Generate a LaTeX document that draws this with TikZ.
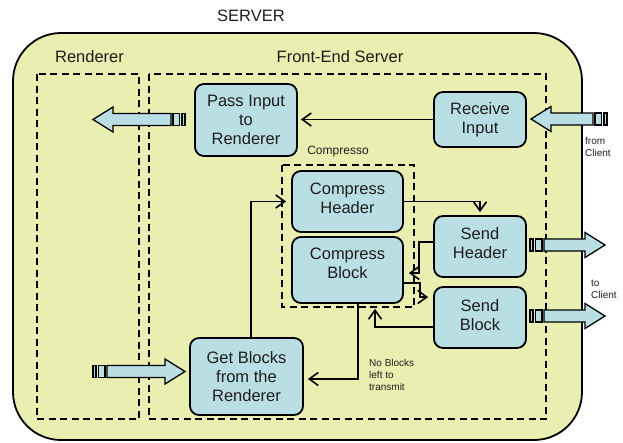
\documentclass[tikz,border=0pt]{standalone}
\usepackage{fontspec}
\setmainfont{Liberation Sans}
\usetikzlibrary{arrows.meta,calc}
\definecolor{serverfill}{RGB}{233,239,176}
\definecolor{boxfill}{RGB}{185,222,227}
\definecolor{ink}{RGB}{30,30,30}

\tikzset{
  stage/.style={draw=black, line width=1.8pt, fill=boxfill, rounded corners=9pt,
    align=center, font=\fontsize{16.5}{19}\selectfont, text=ink, inner sep=2pt},
  zone/.style={draw=black, line width=1.6pt, dash pattern=on 7pt off 4.5pt},
  conn/.style={draw=black, line width=1.6pt, -{Straight Barb[length=9pt,width=13pt]}},
  fatbody/.style={draw=black, line width=1.3pt, fill=boxfill, line join=miter},
  zonelabel/.style={font=\fontsize{16.5}{19}\selectfont, text=ink, inner sep=0pt},
  note/.style={font=\fontsize{10}{12}\selectfont, text=ink, align=left, inner sep=0pt},
}

% block arrow with a striped tail: tail x, axis y, length, direction (+1 right, -1 left)
\newcommand\fatarrow[4]{%
  \begin{scope}[shift={(#1,#2)}, xscale=#4]
    \draw[fatbody] (0,-6) rectangle (3,6);
    \draw[fatbody] (5.5,-6) rectangle (12,6);
    \draw[fatbody] (14,-6) -- ({#3-20},-6) -- ({#3-20},-12.5) -- (#3,0)
      -- ({#3-20},12.5) -- ({#3-20},6) -- (14,6) -- cycle;
  \end{scope}}

\begin{document}
\begin{tikzpicture}[x=1pt,y=-1pt]
\useasboundingbox (0,0) rectangle (623,442);

% server enclosure
\draw[line width=1.8pt, fill=serverfill, rounded corners=48pt] (13,33) rectangle (582,440);

\node[zonelabel] (server) at (251,15.5) {SERVER};
\node[zonelabel] (rlabel) at (89.5,57) {Renderer};
\node[zonelabel] (flabel) at (340,57) {Front-End Server};
\node[inner sep=0pt, text=ink, font=\fontsize{12}{14}\selectfont] (clabel) at (338,152) {Compresso};

% dashed regions
\draw[zone] (37,74) rectangle (139,419);
\draw[zone] (149,74) rectangle (546,419);
\draw[zone] (282,165) rectangle (414,307);

% block arrows in and out
\fatarrow{185}{119.5}{92}{-1}
\fatarrow{607}{119}{76}{-1}
\fatarrow{93}{371.5}{92}{1}
\fatarrow{530}{245}{75}{1}
\fatarrow{530}{316}{75}{1}

% processing stages
\node[stage, minimum width=102pt, minimum height=72pt] (pass) at (246,120) {Pass Input\\to\\Renderer};
\node[stage, minimum width=92pt, minimum height=55pt] (recv) at (480,119.5) {Receive\\Input};
\node[stage, minimum width=111pt, minimum height=61pt, text depth=6pt] (ch) at (347.5,201.5) {Compress\\Header};
\node[stage, minimum width=111pt, minimum height=66pt, text depth=14pt] (cb) at (347.5,270) {Compress\\Block};
\node[stage, minimum width=92pt, minimum height=61pt, text depth=6pt] (sh) at (480,246.5) {Send\\Header};
\node[stage, minimum width=92pt, minimum height=61pt, text depth=5pt] (sb) at (480,317.5) {Send\\Block};
\node[stage, minimum width=113pt, minimum height=77pt] (gb) at (246.5,376.5) {Get Blocks\\from the\\Renderer};

% side notes
\node[note, anchor=west] (fromc) at (585,147) {from\\Client};
\node[note, anchor=west] (toc) at (591,289) {to\\Client};
\node[note, anchor=west] (noblk) at (369,375) {No Blocks\\left to\\transmit};

% control flow
\draw[conn, shorten >=3pt] (recv.west) -- (recv.west -| pass.east);
\draw[conn, shorten >=5pt] ([xshift=4.5pt]gb.north) |- (ch.west);
\draw[conn, shorten >=3pt] (ch.east) -| (sh.north);
\draw[conn, shorten >=5pt] ([yshift=4.5pt]sh.west) -| (419,273) -- ([yshift=-3pt]cb.east);
\draw[conn, shorten >=5pt] ([yshift=-13pt]cb.east) -| (420,297) -- ([yshift=20.5pt]sb.west);
\draw[conn, shorten >=5pt] ([yshift=-9.5pt]sb.west) -| ([xshift=27.5pt]cb.south);
\draw[conn, shorten >=4pt] ([xshift=10.5pt]cb.south) |- ([yshift=-2.5pt]gb.east);
\end{tikzpicture}
\end{document}
